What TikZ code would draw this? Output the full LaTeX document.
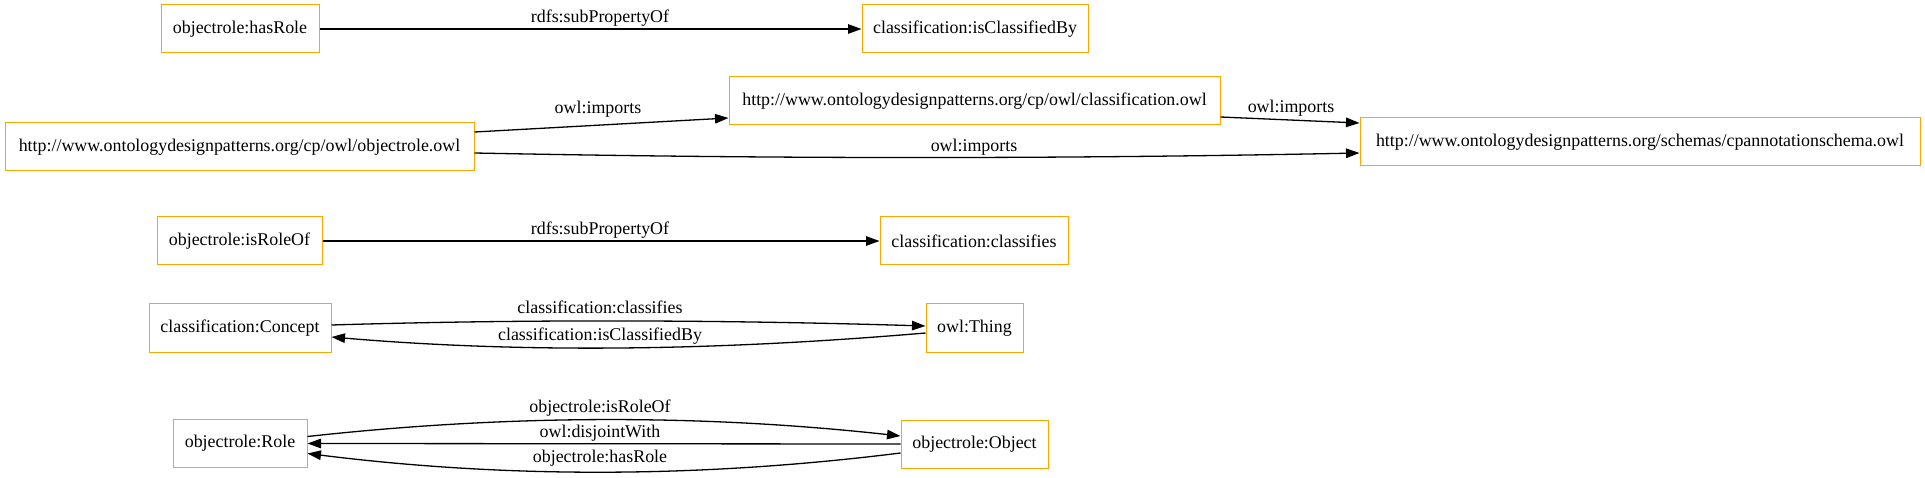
\documentclass[tikz,border=0pt]{standalone}
\usepackage{fontspec}
\setmainfont{Liberation Serif}
\usetikzlibrary{arrows.meta}
\definecolor{boxorange}{HTML}{FFA500}
\tikzset{
  box/.style={draw=boxorange, line width=1pt, inner sep=0pt, font=\fontsize{17.9}{20}\selectfont, fill=white},
  lbl/.style={inner sep=0pt, font=\fontsize{17.9}{20}\selectfont, text height=12.5pt, text depth=4pt},
  edge/.style={line width=1.3pt, -{Triangle[length=13.5pt,width=9.5pt]}}
}
\begin{document}
\begin{tikzpicture}[x=1pt,y=-1pt]
\useasboundingbox[fill=white] (0,0) rectangle (1925,478);
% nodes
\node[box, minimum width=158pt, minimum height=48pt] (hasRole) at (240,29) {objectrole:hasRole};
\node[box, minimum width=226pt, minimum height=48pt] (isClassifiedBy) at (975,29) {classification:isClassifiedBy};
\node[box, minimum width=469pt, minimum height=48pt] (objowl) at (239.5,147) {http://www.ontologydesignpatterns.org/cp/owl/objectrole.owl};
\node[box, minimum width=491pt, minimum height=48pt] (classowl) at (974.5,101) {http://www.ontologydesignpatterns.org/cp/owl/classification.owl};
\node[box, minimum width=560pt, minimum height=48pt] (cpann) at (1640,142) {http://www.ontologydesignpatterns.org/schemas/cpannotationschema.owl};
\node[box, minimum width=165pt, minimum height=48pt] (isRoleOf) at (239.5,241) {objectrole:isRoleOf};
\node[box, minimum width=188pt, minimum height=48pt] (classifies) at (974,241) {classification:classifies};
\node[box, minimum width=182pt, minimum height=48pt] (Concept) at (240,328) {classification:Concept};
\node[box, minimum width=97pt, minimum height=48pt] (Thing) at (974.5,328) {owl:Thing};
\node[box, minimum width=134pt, minimum height=48pt] (Role) at (240,443.5) {objectrole:Role};
\node[box, minimum width=147pt, minimum height=48pt] (Object) at (974.5,444) {objectrole:Object};
% edges
\draw[edge] (hasRole.east) -- (isClassifiedBy.west);
\draw[edge] ([yshift=15pt]objowl.east) -- ([yshift=-17pt]classowl.west);
\draw[edge] ([yshift=-6pt]objowl.east) .. controls +(300,6) and +(-300,6) .. ([yshift=-11pt]cpann.west);
\draw[edge] ([yshift=-16pt]classowl.east) -- ([yshift=19pt]cpann.west);
\draw[edge] (isRoleOf.east) -- (classifies.west);
\draw[edge] ([yshift=3pt]Concept.east) .. controls +(200,-6) and +(-200,-6) .. ([yshift=2pt]Thing.west);
\draw[edge] ([yshift=-5pt]Thing.west) .. controls +(-200,17) and +(200,17) .. ([yshift=-9pt]Concept.east);
\draw[edge] ([yshift=7pt]Role.east) .. controls +(200,-22) and +(-200,-22) .. ([yshift=8pt]Object.west);
\draw[edge] (Object.west) -- (Role.east);
\draw[edge] ([yshift=-9pt]Object.west) .. controls +(-200,25) and +(200,25) .. ([yshift=-10pt]Role.east);
% labels
\node[lbl] (l1) at (600,18) {rdfs:subPropertyOf};
\node[lbl] (l2) at (598,109) {owl:imports};
\node[lbl] (l3) at (1291,108) {owl:imports};
\node[lbl] (l4) at (974,147) {owl:imports};
\node[lbl] (l5) at (600,230.5) {rdfs:subPropertyOf};
\node[lbl] (l6) at (600,309) {classification:classifies};
\node[lbl] (l7) at (600,336.5) {classification:isClassifiedBy};
\node[lbl] (l8) at (600,408) {objectrole:isRoleOf};
\node[lbl] (l9) at (600,433) {owl:disjointWith};
\node[lbl] (l10) at (600,458) {objectrole:hasRole};
\end{tikzpicture}
\end{document}
